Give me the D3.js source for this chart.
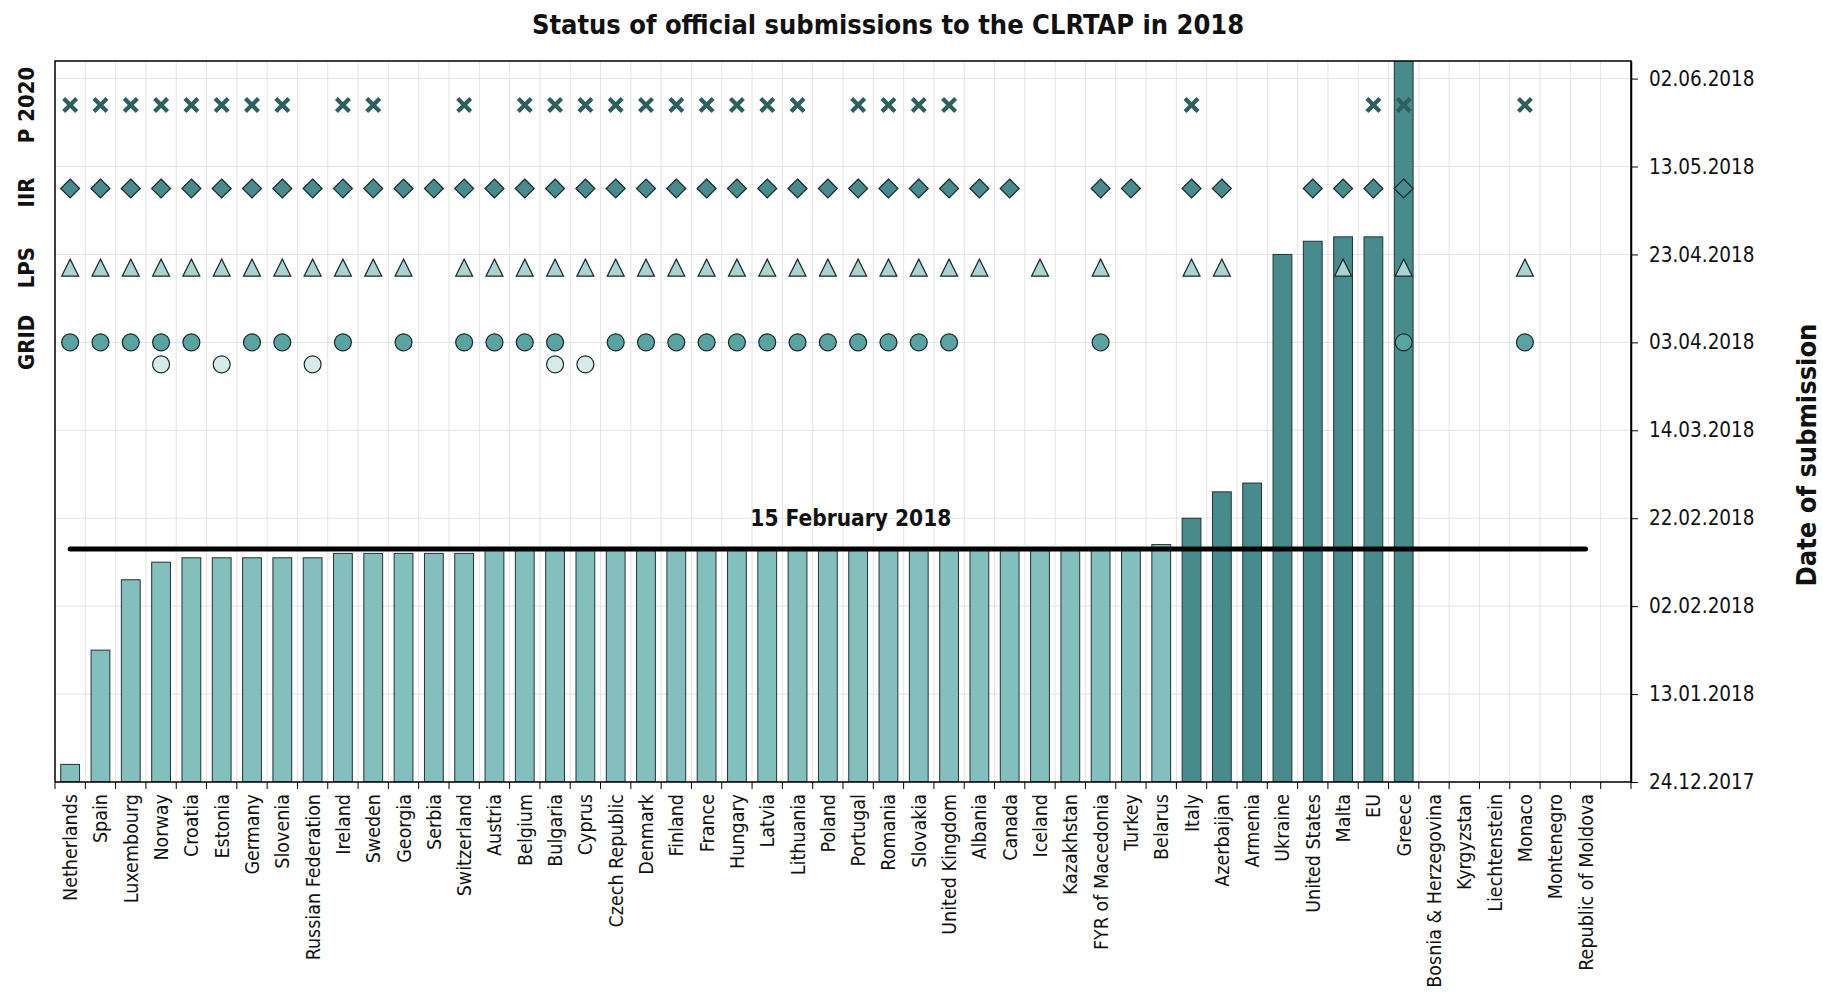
<!DOCTYPE html>
<html>
<head>
<meta charset="utf-8">
<script src="https://cdn.jsdelivr.net/npm/d3@7"></script>
<style>
body { margin: 0; background: #fff; }
text { font-family: "DejaVu Sans Condensed", "DejaVu Sans", sans-serif; fill: #111; }
</style>
</head>
<body>
<script>
// Countries in the order of the chart
const countries = ["Netherlands", "Spain", "Luxembourg", "Norway", "Croatia", "Estonia", "Germany", "Slovenia",
  "Russian Federation", "Ireland", "Sweden", "Georgia", "Serbia", "Switzerland", "Austria", "Belgium", "Bulgaria",
  "Cyprus", "Czech Republic", "Denmark", "Finland", "France", "Hungary", "Latvia", "Lithuania", "Poland", "Portugal",
  "Romania", "Slovakia", "United Kingdom", "Albania", "Canada", "Iceland", "Kazakhstan", "FYR of Macedonia", "Turkey",
  "Belarus", "Italy", "Azerbaijan", "Armenia", "Ukraine", "United States", "Malta", "EU", "Greece",
  "Bosnia & Herzegovina", "Kyrgyzstan", "Liechtenstein", "Monaco", "Montenegro", "Republic of Moldova"];

// Date of submission (bars), null = nothing submitted
const submitted = ["2017-12-28", "2018-01-23", "2018-02-08", "2018-02-12", "2018-02-13", "2018-02-13", "2018-02-13",
  "2018-02-13", "2018-02-13", "2018-02-14", "2018-02-14", "2018-02-14", "2018-02-14", "2018-02-14", "2018-02-15",
  "2018-02-15", "2018-02-15", "2018-02-15", "2018-02-15", "2018-02-15", "2018-02-15", "2018-02-15", "2018-02-15",
  "2018-02-15", "2018-02-15", "2018-02-15", "2018-02-15", "2018-02-15", "2018-02-15", "2018-02-15", "2018-02-15",
  "2018-02-15", "2018-02-15", "2018-02-15", "2018-02-15", "2018-02-15", "2018-02-16", "2018-02-22", "2018-02-28",
  "2018-03-02", "2018-04-23", "2018-04-26", "2018-04-27", "2018-04-27", "2018-06-20",
  null, null, null, null, null, null];

// Which reports were submitted (1 = yes)
const p2020 = [1,1,1,1,1,1,1,1, 0,1,1,0,0,1,0, 1,1,1,1,1,1,1,1,1,1, 0, 1,1,1,1, 0,0,0,0,0,0,0, 1, 0,0,0,0,0, 1,1, 0,0,0, 1, 0,0];
const iir   = [1,1,1,1,1,1,1,1,1,1,1,1,1,1,1,1,1,1,1,1,1,1,1,1,1,1,1,1,1,1,1,1, 0,0, 1,1, 0, 1,1, 0,0, 1,1,1,1, 0,0,0,0,0,0];
const lps   = [1,1,1,1,1,1,1,1,1,1,1,1, 0, 1,1,1,1,1,1,1,1,1,1,1,1,1,1,1,1,1,1, 0, 1, 0, 1, 0,0, 1,1, 0,0,0, 1, 0, 1, 0,0,0, 1, 0,0];
const grid  = [1,1,1,1,1, 0, 1,1, 0, 1, 0, 1, 0, 1,1,1,1, 0, 1,1,1,1,1,1,1,1,1,1,1,1, 0,0,0,0, 1, 0,0,0,0,0,0,0,0,0, 1, 0,0,0, 1, 0,0];
const gridResub = [0,0,0,1,0,1,0,0,1,0,0,0,0,0,0,0,1,1,0,0,0,0,0,0,0,0,0,0,0,0,0,0,0,0,0,0,0,0,0,0,0,0,0,0,0,0,0,0,0,0,0];

// Axis ticks (every 20 days)
const tickLabels = ["24.12.2017", "13.01.2018", "02.02.2018", "22.02.2018", "14.03.2018", "03.04.2018",
  "23.04.2018", "13.05.2018", "02.06.2018"];

const deadline = "2018-02-15";
const deadlineLabel = "15 February 2018";

const parseISO = d3.utcParse("%Y-%m-%d");
const parseTick = d3.utcParse("%d.%m.%Y");
const fmt = d3.utcFormat("%d.%m.%Y");

const W = 1823, H = 992;
const mL = 55, mR = 1631, mT = 61, mB = 782;

const svg = d3.select("body").append("svg")
  .attr("width", W).attr("height", H);

// x: one slot per country plus an empty slot at the end
const x = d3.scaleBand().domain([...countries, ""]).range([mL, mR]).padding(0);
const barW = x.bandwidth() * 0.62;
const cx = c => x(c) + x.bandwidth() / 2;

// y: date scale
const y = d3.scaleUtc()
  .domain([parseTick("24.12.2017"), parseTick("06.06.2018")])
  .range([mB, mT]);
const ticks = tickLabels.map(parseTick);

svg.append("defs").append("clipPath").attr("id", "plot")
  .append("rect").attr("x", mL).attr("y", mT).attr("width", mR - mL).attr("height", mB - mT);

// grid lines
const gridG = svg.append("g");
gridG.selectAll(".vg").data(x.domain().slice(1).concat(["__end"]))
  .enter().append("line")
  .attr("x1", d => d === "__end" ? mR : x(d))
  .attr("x2", d => d === "__end" ? mR : x(d))
  .attr("y1", mT).attr("y2", mB)
  .attr("stroke", "#e3e3e3").attr("stroke-width", 1);
gridG.selectAll(".hg").data(ticks)
  .enter().append("line")
  .attr("x1", mL).attr("x2", mR)
  .attr("y1", d => y(d)).attr("y2", d => y(d))
  .attr("stroke", "#e3e3e3").attr("stroke-width", 1);

// bars
const barData = countries.map((c, i) => ({ c, d: submitted[i] ? parseISO(submitted[i]) : null }))
  .filter(d => d.d);
const lateAfter = parseISO("2018-02-16");
svg.append("g").attr("clip-path", "url(#plot)")
  .selectAll("rect").data(barData).enter().append("rect")
  .attr("x", d => cx(d.c) - barW / 2)
  .attr("width", barW)
  .attr("y", d => y(d.d))
  .attr("height", d => mB - y(d.d))
  .attr("fill", d => d.d > lateAfter ? "#478b8d" : "#83bfbc")
  .attr("stroke", "#223333").attr("stroke-width", 1);

// deadline line
const dl = parseISO(deadline);
svg.append("line")
  .attr("x1", cx(countries[0])).attr("x2", cx(countries[countries.length - 1]))
  .attr("y1", y(dl)).attr("y2", y(dl))
  .attr("stroke", "#000").attr("stroke-width", 5).attr("stroke-linecap", "round");
svg.append("text")
  .attr("x", (cx(countries[0]) + cx(countries[countries.length - 1])) / 2 + 23)
  .attr("y", y(dl) - 23)
  .attr("text-anchor", "middle")
  .attr("font-size", 22.5).attr("font-weight", "bold")
  .text(deadlineLabel);

// marker rows (placed at dates on the y scale)
const rowY = {
  p2020: y(parseISO("2018-05-27")),
  iir: y(parseISO("2018-05-08")),
  lps: y(parseISO("2018-04-20")),
  grid: y(parseISO("2018-04-03")),
  gridResub: y(parseISO("2018-03-29"))
};
const markG = svg.append("g");
const on = arr => countries.filter((c, i) => arr[i]);

markG.selectAll(".cross").data(on(p2020)).enter().append("path")
  .attr("transform", c => `translate(${cx(c)},${rowY.p2020})`)
  .attr("d", "M-6.5,-6.5L6.5,6.5M6.5,-6.5L-6.5,6.5")
  .attr("stroke", "#2c5f5f").attr("stroke-width", 4.2).attr("fill", "none");

markG.selectAll(".dia").data(on(iir)).enter().append("path")
  .attr("transform", c => `translate(${cx(c)},${rowY.iir})`)
  .attr("d", "M0,-9.5L9.5,0L0,9.5L-9.5,0Z")
  .attr("fill", "#478b8d").attr("stroke", "#1a2a2a").attr("stroke-width", 1.2);

markG.selectAll(".tri").data(on(lps)).enter().append("path")
  .attr("transform", c => `translate(${cx(c)},${rowY.lps})`)
  .attr("d", "M0,-8.5L8.5,8.5L-8.5,8.5Z")
  .attr("fill", "#a9d4d1").attr("stroke", "#1a2a2a").attr("stroke-width", 1.2);

markG.selectAll(".circ").data(on(grid)).enter().append("circle")
  .attr("cx", c => cx(c)).attr("cy", rowY.grid).attr("r", 8.5)
  .attr("fill", "#57a4a1").attr("stroke", "#1a2a2a").attr("stroke-width", 1.2);

markG.selectAll(".circ2").data(on(gridResub)).enter().append("circle")
  .attr("cx", c => cx(c)).attr("cy", rowY.gridResub).attr("r", 8.5)
  .attr("fill", "#d6ebe9").attr("stroke", "#1a2a2a").attr("stroke-width", 1.2);

// row labels on the left
const rowLabels = [["P 2020", rowY.p2020], ["IIR", rowY.iir + 4], ["LPS", rowY.lps], ["GRID", rowY.grid]];
svg.selectAll(".rowlab").data(rowLabels).enter().append("text")
  .attr("transform", d => `translate(26,${d[1]}) rotate(-90)`)
  .attr("dy", "0.36em")
  .attr("text-anchor", "middle")
  .attr("font-size", 22).attr("font-weight", "bold")
  .text(d => d[0]);

// frame
svg.append("path")
  .attr("d", `M${mL},${mB}V${mT}H${mR}V${mB}`)
  .attr("fill", "none").attr("stroke", "#000").attr("stroke-width", 1.5);

// right axis
const yAxis = d3.axisRight(y).tickValues(ticks).tickFormat(fmt).tickSize(7).tickSizeOuter(0).tickPadding(11);
const yg = svg.append("g").attr("transform", `translate(${mR},0)`).call(yAxis);
yg.select(".domain").attr("stroke", "#000").attr("stroke-width", 1.5);
yg.selectAll("text").attr("font-size", 20.5).attr("font-family", null).style("fill", "#111");

svg.append("text")
  .attr("transform", `translate(1806,455) rotate(-90)`)
  .attr("dy", "0.36em")
  .attr("text-anchor", "middle")
  .attr("font-size", 27).attr("font-weight", "bold")
  .text("Date of submission");

// bottom axis: ticks at slot boundaries, labels at slot centres
const xg = svg.append("g");
xg.append("line").attr("x1", mL).attr("x2", mR).attr("y1", mB).attr("y2", mB)
  .attr("stroke", "#000").attr("stroke-width", 1.5);
xg.selectAll(".xt").data(x.domain().concat(["__end"])).enter().append("line")
  .attr("x1", d => d === "__end" ? mR : x(d))
  .attr("x2", d => d === "__end" ? mR : x(d))
  .attr("y1", mB).attr("y2", mB + 7)
  .attr("stroke", "#000").attr("stroke-width", 1);
xg.selectAll(".xl").data(countries).enter().append("text")
  .attr("transform", c => `translate(${cx(c)},${mB + 12}) rotate(-90)`)
  .attr("dy", "0.36em")
  .attr("text-anchor", "end")
  .attr("font-size", 19.5)
  .text(c => c);

// title
svg.append("text")
  .attr("x", 888).attr("y", 34)
  .attr("text-anchor", "middle")
  .attr("font-size", 27).attr("font-weight", "bold")
  .text("Status of official submissions to the CLRTAP in 2018");
</script>
</body>
</html>
